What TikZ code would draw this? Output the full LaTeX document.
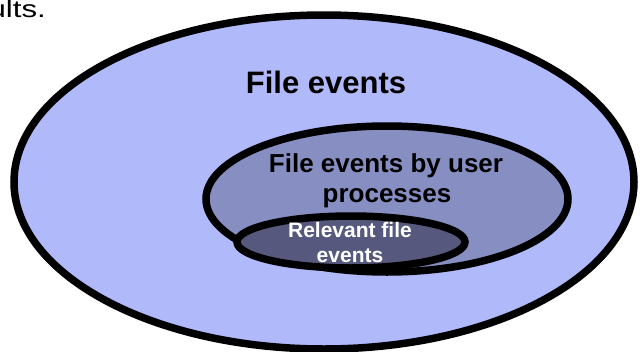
\documentclass[tikz,border=0pt]{standalone}
\usepackage{fontspec}
\setmainfont{Liberation Sans}
\definecolor{outerfill}{RGB}{176,185,250}
\definecolor{midfill}{RGB}{135,143,194}
\definecolor{innerfill}{RGB}{86,89,125}
\tikzset{
  setline/.style={draw=black, line width=7.5pt},
  lbl/.style={anchor=base, inner sep=0pt, font=\bfseries},
}
\begin{document}
\begin{tikzpicture}[x=1pt,y=-1pt]
\useasboundingbox (0,0) rectangle (640,351);
\fill[white] (0,0) rectangle (640,351);
\node[anchor=base east, inner sep=0pt, font=\fontsize{24}{28}\selectfont] (prev) at (46,17) {\scalebox{1.3}[1]{ults.}};
\draw[setline, fill=outerfill] (324,182) ellipse [x radius=310pt, y radius=167pt];
\draw[setline, fill=midfill] (387,199) ellipse [x radius=181pt, y radius=73pt];
\draw[setline, fill=innerfill] (351,242) ellipse [x radius=114pt, y radius=26pt];
\node[lbl, font=\bfseries\fontsize{31}{36}\selectfont] (fe) at (326,93) {File events};
\node[lbl, font=\bfseries\fontsize{26}{30}\selectfont] (up1) at (386,172) {File events by user};
\node[lbl, font=\bfseries\fontsize{26}{30}\selectfont] (up2) at (387,202) {processes};
\node[lbl, text=white, font=\bfseries\fontsize{21}{25}\selectfont] (rf1) at (350,237) {Relevant file};
\node[lbl, text=white, font=\bfseries\fontsize{21}{25}\selectfont] (rf2) at (350,262) {events};
\end{tikzpicture}
\end{document}
